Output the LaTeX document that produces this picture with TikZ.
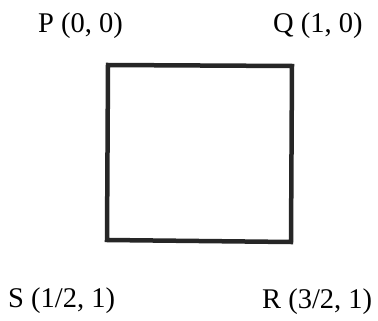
\documentclass[tikz,border=0pt]{standalone}
\usepackage{fontspec}
\setmainfont{Liberation Serif}
\begin{document}
\begin{tikzpicture}[x=1pt,y=-1pt,
  lbl/.style={anchor=base west,inner sep=0pt,font=\fontsize{28.5}{32}\selectfont},
  frame/.style={draw=black!85,line width=4.5pt,line join=miter}]
\useasboundingbox (0,0) rectangle (378,321);
\coordinate (tl) at (108,65);
\coordinate (tr) at (292,66);
\coordinate (br) at (291,242);
\coordinate (bl) at (107,240);
\draw[frame] (tl) -- (tr) -- (br) -- (bl) -- cycle;
\node[lbl] (p) at (38,33) {P (0, 0)};
\node[lbl] (q) at (273,33) {Q (1, 0)};
\node[lbl] (s) at (8,307) {S (1/2, 1)};
\node[lbl] (r) at (262,308) {R (3/2, 1)};
\end{tikzpicture}
\end{document}
